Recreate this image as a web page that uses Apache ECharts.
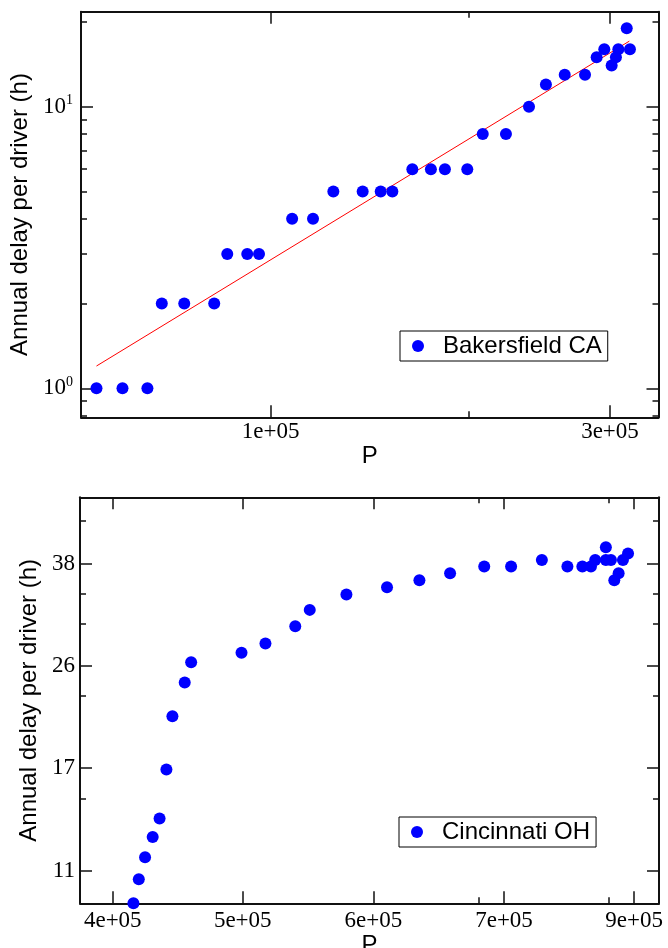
<!DOCTYPE html>
<html><head><meta charset="utf-8">
<script src="https://cdn.jsdelivr.net/npm/echarts@6/dist/echarts.min.js"></script>
<style>html,body{margin:0;padding:0;background:#fff}#c{width:668px;height:948px}</style>
</head><body><div id="c"></div>
<script>
// ---- data ----
const bakersfieldP = [56900, 61900, 67100, 70300, 75600, 83300, 86900, 92700, 96300, 107200, 114700, 122500, 134700, 142800, 148300, 158200, 168000, 175800, 189000, 198700, 214200, 230800, 243800, 259100, 276700, 287300, 294500, 301600, 305800, 308200, 316700, 320000];
const bakersfieldDelay = [1, 1, 1, 2, 2, 2, 3, 3, 3, 4, 4, 5, 5, 5, 5, 6, 6, 6, 6, 8, 8, 10, 12, 13, 13, 15, 16, 14, 15, 16, 19, 16];
const fitP = [56900, 319400];
const fitDelay = [1.2, 17.1];
const cincinnatiP = [412300, 415700, 419700, 424600, 429100, 433600, 437600, 445900, 450300, 486300, 504400, 527900, 539700, 570800, 607300, 638100, 668700, 704500, 734000, 769300, 799900, 818400, 829200, 834600, 848300, 848300, 854900, 859300, 865000, 870700, 877500];
const cincinnatiDelay = [10, 11, 12, 13, 14, 17, 21, 24, 26, 27, 28, 30, 32, 34, 35, 36, 37, 38, 38, 39, 38, 38, 38, 39, 41, 39, 39, 36, 37, 39, 40];

// ---- axes: ranges, ticks, tick labels ----
const topXRange = [54120, 351000];
const topYRange = [0.789, 21.75];
const botXRange = [380000, 920000];
const botYRange = [10, 50];

const topXMajor = [1e5, 3e5];
const topXLabels = ['1e+05', '3e+05'];
const topXMinor = [1.9e5];
const topYMajor = [1, 10];
const topYExponents = ['0', '1'];
const topYMinor = [0.8, 0.9, 2, 3, 4, 5, 6, 7, 8, 9, 20];

const botXMajor = [399500, 487200, 594700, 726100, 885600];
const botXLabels = ['4e+05', '5e+05', '6e+05', '7e+05', '9e+05'];
const botXMinor = [698200, 851500];
const botYMajor = [11.39, 17.09, 25.63, 38.44];
const botYLabels = ['11', '17', '26', '38'];
const botYMinor = [15.16, 22.77, 30.34, 34.17, 45.56];

const yTitle = 'Annual delay per driver (h)';
const xTitle = 'P';

// ---- helpers ----
const L = Math.log10;
const FRAME = '#111';
const SERIF = 'Liberation Serif';
const SANS = 'Liberation Sans';

function pick(vals, labels, v) {
  for (let i = 0; i < vals.length; i++) if (Math.abs(L(vals[i]) - v) < 1e-6) return labels[i];
  return '';
}

function decor(grid, pos, range, vals, len, line, label, name) {
  const ax = {
    type: 'value', gridIndex: grid, position: pos,
    min: L(range[0]), max: L(range[1]),
    splitLine: {show: false}, splitArea: {show: false}, silent: true,
    axisLine: line ? {show: true, onZero: false, lineStyle: {color: FRAME, width: 2}} : {show: false, onZero: false},
    axisTick: {show: true, inside: true, length: len, customValues: vals.map(L), lineStyle: {color: FRAME, width: 1.5}},
    axisLabel: {show: false}
  };
  if (label) {
    ax.axisLabel = Object.assign({show: true, customValues: vals.map(L), color: '#000', fontFamily: SERIF, fontSize: 23}, label);
  }
  if (name) Object.assign(ax, name);
  return ax;
}

const supRich = {
  b: {fontFamily: SERIF, fontSize: 23, color: '#000', lineHeight: 26},
  s: {fontFamily: SERIF, fontSize: 14, color: '#000', lineHeight: 14, verticalAlign: 'top'}
};

const xAxes = [
  {type: 'log', gridIndex: 0, min: topXRange[0], max: topXRange[1], show: false},
  decor(0, 'bottom', topXRange, topXMajor, 12, true, {margin: 3, formatter: v => pick(topXMajor, topXLabels, v)},
    {name: xTitle, nameLocation: 'middle', nameGap: 24, nameTextStyle: {fontFamily: SANS, fontSize: 24, color: '#000'}}),
  decor(0, 'bottom', topXRange, topXMinor, 6, false),
  decor(0, 'top', topXRange, topXMajor, 12, true),
  decor(0, 'top', topXRange, topXMinor, 6, false),
  {type: 'log', gridIndex: 1, min: botXRange[0], max: botXRange[1], show: false},
  decor(1, 'bottom', botXRange, botXMajor, 12, true, {margin: 6, formatter: v => pick(botXMajor, botXLabels, v)},
    {name: xTitle, nameLocation: 'middle', nameGap: 30, nameTextStyle: {fontFamily: SANS, fontSize: 24, color: '#000'}}),
  decor(1, 'bottom', botXRange, botXMinor, 6, false),
  decor(1, 'top', botXRange, botXMajor, 12, true),
  decor(1, 'top', botXRange, botXMinor, 6, false)
];

const yAxes = [
  {type: 'log', gridIndex: 0, min: topYRange[0], max: topYRange[1], show: false},
  decor(0, 'left', topYRange, topYMajor, 12, true,
    {margin: 8, formatter: v => '{b|10}{s|' + pick(topYMajor, topYExponents, v) + '}', rich: supRich},
    {name: yTitle, nameLocation: 'middle', nameGap: 42, nameTextStyle: {fontFamily: SANS, fontSize: 24, color: '#000'}}),
  decor(0, 'left', topYRange, topYMinor, 6, false),
  decor(0, 'right', topYRange, topYMajor, 12, true),
  decor(0, 'right', topYRange, topYMinor, 6, false),
  {type: 'log', gridIndex: 1, min: botYRange[0], max: botYRange[1], show: false},
  decor(1, 'left', botYRange, botYMajor, 12, true, {margin: 5, formatter: v => pick(botYMajor, botYLabels, v)},
    {name: yTitle, nameLocation: 'middle', nameGap: 37, nameTextStyle: {fontFamily: SANS, fontSize: 24, color: '#000'}}),
  decor(1, 'left', botYRange, botYMinor, 6, false),
  decor(1, 'right', botYRange, botYMajor, 12, true),
  decor(1, 'right', botYRange, botYMinor, 6, false)
];

function legendFor(name, left, top) {
  return {
    data: [name], left: left, top: top, orient: 'horizontal', selectedMode: false,
    itemWidth: 12, itemHeight: 12, padding: [3, 6, 3, 12],
    borderColor: '#000', borderWidth: 1, borderRadius: 0, backgroundColor: '#fff',
    formatter: n => '{t|' + n + '}',
    textStyle: {fontFamily: SANS, fontSize: 24, color: '#000',
      rich: {t: {fontFamily: SANS, fontSize: 24, color: '#000', lineHeight: 24, padding: [0, 0, 0, 14]}}}
  };
}

const option = {
  backgroundColor: '#fff',
  animation: false,
  grid: [
    {left: 81, top: 11.7, width: 577.5, height: 405.6, containLabel: false, outerBoundsMode: 'none'},
    {left: 80, top: 497.3, width: 579, height: 406, containLabel: false, outerBoundsMode: 'none'}
  ],
  xAxis: xAxes,
  yAxis: yAxes,
  legend: [legendFor('Bakersfield CA', 400, 331), legendFor('Cincinnati OH', 399, 817)],
  series: [
    {name: 'Bakersfield CA', type: 'scatter', xAxisIndex: 0, yAxisIndex: 0, clip: false,
     symbol: 'circle', symbolSize: 12, itemStyle: {color: '#0000ff', opacity: 1},
     data: bakersfieldP.map((p, i) => [p, bakersfieldDelay[i]])},
    {name: 'fit', type: 'line', xAxisIndex: 0, yAxisIndex: 0, showSymbol: false, symbol: 'none', silent: true,
     lineStyle: {color: '#ff0000', width: 1}, z: 1,
     data: fitP.map((p, i) => [p, fitDelay[i]])},
    {name: 'Cincinnati OH', type: 'scatter', xAxisIndex: 5, yAxisIndex: 5, clip: false,
     symbol: 'circle', symbolSize: 12, itemStyle: {color: '#0000ff', opacity: 1},
     data: cincinnatiP.map((p, i) => [p, cincinnatiDelay[i]])}
  ]
};

const chart = echarts.init(document.getElementById('c'), null, {renderer: 'canvas'});
chart.setOption(option);
</script>
</body></html>
